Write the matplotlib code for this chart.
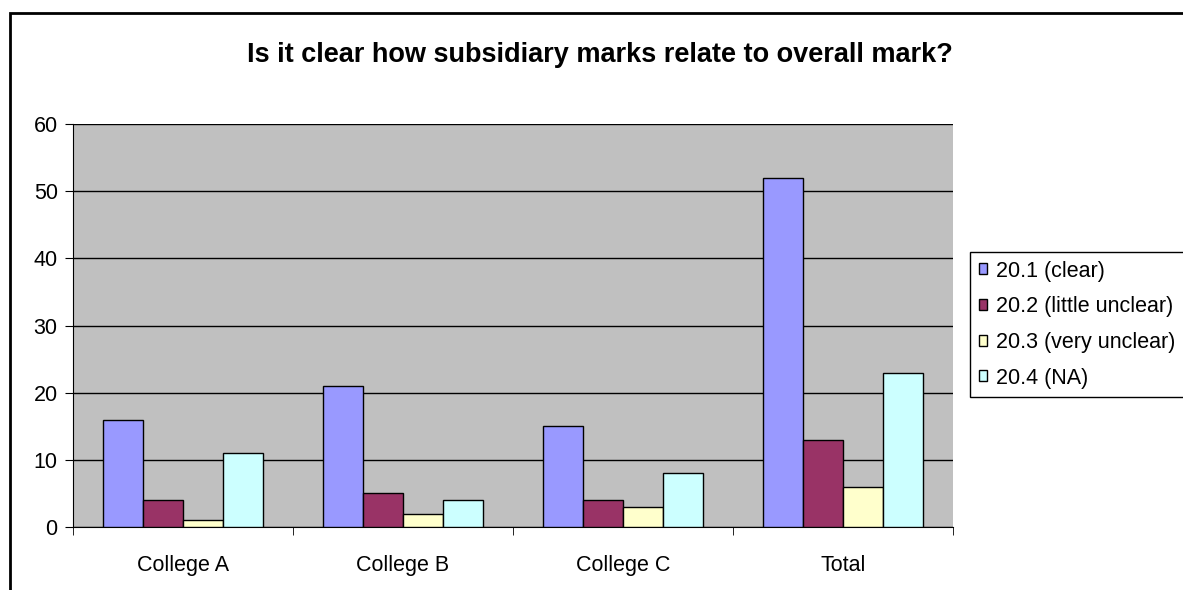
import matplotlib.pyplot as plt
import matplotlib.patches as mpatches
import numpy as np

plt.rcParams['font.family'] = ['Liberation Sans', 'DejaVu Sans']

categories = ['College A', 'College B', 'College C', 'Total']
series_names = ['20.1 (clear)', '20.2 (little unclear)', '20.3 (very unclear)', '20.4 (NA)']
clear = [16, 21, 15, 52]
little_unclear = [4, 5, 4, 13]
very_unclear = [1, 2, 3, 6]
na = [11, 4, 8, 23]
colors = ['#9999FF', '#993366', '#FFFFCC', '#CCFFFF']

W, H = 1183, 590
fs = 15.5
fig = plt.figure(figsize=(W / 100, H / 100), dpi=100)

# outer chart border (Excel chart area)
fig.patches.append(mpatches.Rectangle((10 / W, -0.1), 1.2, 1.1 - 13 / H, transform=fig.transFigure,
                                      fill=False, edgecolor='black', linewidth=2, zorder=0))

ax = fig.add_axes([73 / W, 1 - 527 / H, 880 / W, 403 / H])
ax.set_facecolor('#C0C0C0')

x = np.arange(len(categories))
bw = 0.4 / 2.2  # 4 bars, gap width 150%
for i, (vals, name) in enumerate(zip([clear, little_unclear, very_unclear, na], series_names)):
    ax.bar(x + (i - 1.5) * bw, vals, bw, color=colors[i], edgecolor='black', linewidth=1,
           label=name, zorder=3)

ax.set_xlim(-0.5, len(categories) - 0.5)
ax.set_ylim(0, 60)
ax.set_yticks(range(0, 61, 10))
ax.yaxis.grid(True, color='black', linewidth=1)
ax.set_axisbelow(True)
ax.set_xticks(x)
ax.set_xticklabels(categories, fontsize=fs)
ax.set_xticks(np.arange(-0.5, len(categories)), minor=True)
ax.tick_params(axis='x', which='major', length=0, pad=20)
ax.tick_params(axis='x', which='minor', length=6, direction='out')
ax.tick_params(axis='y', length=6, direction='out', labelsize=fs, pad=5)
for s in ['top', 'right']:
    ax.spines[s].set_visible(False)
ax.spines['left'].set_color('black')
ax.spines['bottom'].set_color('black')

fig.text(600 / W, 1 - 55 / H, 'Is it clear how subsidiary marks relate to overall mark?',
         ha='center', va='center', fontsize=19.5, fontweight='bold')

leg = ax.legend(loc='upper left', bbox_to_anchor=(970 / W, 1 - 252 / H), bbox_transform=fig.transFigure,
                fontsize=fs, frameon=True, fancybox=False, edgecolor='black', framealpha=1,
                handlelength=0.4, handleheight=0.4, handletextpad=0.4, borderpad=0.4,
                labelspacing=0.68, borderaxespad=0)
leg.get_frame().set_linewidth(1)

fig.savefig('out.png', dpi=100)
